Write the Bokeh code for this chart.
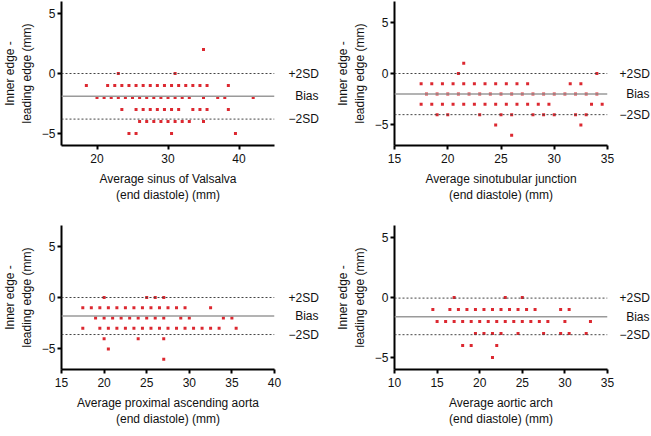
from bokeh.plotting import figure
from bokeh.models import Span, FixedTicker, Range1d, LinearAxis
from bokeh.layouts import column, row
from bokeh.embed import file_html
from bokeh.resources import INLINE

FONT = "Liberation Sans"
FS = "12px"
DOT = "#dc2830"

# ---------------- data ----------------
sinus_avg = [35,
             23, 31,
             18.5, 21.5, 22.5, 23.5, 24.5, 25.5, 26.5, 27.5, 28.5, 29.5, 30.5, 31.5, 32.5, 33.5, 34.5, 35.5, 38.5,
             20, 21, 22, 23, 24, 25, 26, 27, 28, 29, 30, 31, 32, 33, 35, 37, 38, 42,
             23.5, 25.5, 26.5, 27.5, 28.5, 29.5, 30.5, 31.5, 33.5, 34.5, 35.5, 38.5,
             26, 27, 28, 29, 30, 31, 32, 33, 35,
             24.5, 25.5, 30.5, 39.5]
sinus_diff = [2,
              0, 0,
              -1, -1, -1, -1, -1, -1, -1, -1, -1, -1, -1, -1, -1, -1, -1, -1, -1,
              -2, -2, -2, -2, -2, -2, -2, -2, -2, -2, -2, -2, -2, -2, -2, -2, -2, -2,
              -3, -3, -3, -3, -3, -3, -3, -3, -3, -3, -3, -3,
              -4, -4, -4, -4, -4, -4, -4, -4, -4,
              -5, -5, -5, -5]
sinus_stats = [-1.9, 0.0, -3.8]  # bias, +2SD, -2SD

stj_avg = [21.5,
           21, 34,
           17.5, 18.5, 19.5, 20.5, 21.5, 22.5, 23.5, 24.5, 25.5, 26.5, 27.5, 31.5, 32.5,
           18, 19, 20, 21, 22, 23, 24, 25, 26, 27, 28, 29, 30, 31, 32, 33, 34,
           17.5, 18.5, 19.5, 20.5, 21.5, 22.5, 23.5, 24.5, 25.5, 26.5, 27.5, 28.5, 29.5, 33.5, 34.5,
           19, 20, 23, 25, 26, 28, 29, 30, 32, 33,
           24.5, 32.5,
           26]
stj_diff = [1,
            0, 0,
            -1, -1, -1, -1, -1, -1, -1, -1, -1, -1, -1, -1, -1,
            -2, -2, -2, -2, -2, -2, -2, -2, -2, -2, -2, -2, -2, -2, -2, -2, -2,
            -3, -3, -3, -3, -3, -3, -3, -3, -3, -3, -3, -3, -3, -3, -3,
            -4, -4, -4, -4, -4, -4, -4, -4, -4, -4,
            -5, -5,
            -6]
stj_stats = [-2.0, 0.0, -4.0]

asc_avg = [20, 25, 26, 27,
           17.5, 18.5, 19.5, 20.5, 21.5, 22.5, 23.5, 24.5, 25.5, 26.5, 27.5, 28.5, 29.5, 32.5,
           19, 20, 21, 22, 23, 24, 25, 26, 27, 29, 30, 34, 35,
           17.5, 19.5, 20.5, 21.5, 22.5, 23.5, 24.5, 25.5, 26.5, 27.5, 28.5, 29.5, 30.5, 31.5, 32.5, 33.5, 35.5,
           20, 24, 27,
           20.5,
           27]
asc_diff = [0, 0, 0, 0,
            -1, -1, -1, -1, -1, -1, -1, -1, -1, -1, -1, -1, -1, -1,
            -2, -2, -2, -2, -2, -2, -2, -2, -2, -2, -2, -2, -2,
            -3, -3, -3, -3, -3, -3, -3, -3, -3, -3, -3, -3, -3, -3, -3, -3, -3,
            -4, -4, -4,
            -5,
            -6]
asc_stats = [-1.8, 0.0, -3.6]

arch_avg = [17, 23, 25,
            14.5, 16.5, 17.5, 18.5, 19.5, 20.5, 21.5, 22.5, 23.5, 24.5, 25.5, 26.5, 29.5, 30.5,
            15, 16, 17, 18, 19, 20, 21, 22, 23, 24, 25, 26, 27, 28, 30, 33,
            19.5, 20.5, 21.5, 22.5, 24.5, 27.5, 29.5, 30.5, 32.5,
            18, 19, 22,
            21.5]
arch_diff = [0, 0, 0,
             -1, -1, -1, -1, -1, -1, -1, -1, -1, -1, -1, -1, -1, -1,
             -2, -2, -2, -2, -2, -2, -2, -2, -2, -2, -2, -2, -2, -2, -2, -2,
             -3, -3, -3, -3, -3, -3, -3, -3, -3,
             -4, -4, -4,
             -5]
arch_stats = [-1.6, -0.05, -3.1]

# "Bias" is padded with two no-break spaces so that the three labels end flush right
line_labels = ["\u00a0\u00a0Bias", "+2SD", "\u22122SD"]
y_ticks = [-5, 0, 5]
y_tick_labels = {-5: "\u22125", 0: "0", 5: "5"}


def style_text(ax):
    ax.major_label_text_font = FONT
    ax.major_label_text_font_size = FS
    ax.major_label_text_color = "#111111"
    ax.axis_label_text_font = FONT
    ax.axis_label_text_font_size = FS
    ax.axis_label_text_font_style = "normal"
    ax.axis_label_text_color = "#111111"


def panel(xs, ys, stats, xr, yr, xticks, xlabel, fw, fh, left, right, top, bottom, lab_gap):
    p = figure(frame_width=fw, frame_height=fh, x_range=Range1d(*xr), y_range=Range1d(*yr),
               output_backend="svg", toolbar_location=None,
               min_border_left=left, min_border_right=right,
               min_border_top=top, min_border_bottom=bottom)
    p.outline_line_color = None
    p.grid.visible = False
    p.background_fill_color = "white"
    p.border_fill_color = "white"

    # reference lines
    p.add_layout(Span(location=stats[0], dimension="width", line_color="#9a9a9a", line_width=1.5))
    for v in stats[1:]:
        p.add_layout(Span(location=v, dimension="width", line_color="#444444",
                          line_width=1, line_dash="2 2"))

    p.scatter(xs, ys, marker="square", size=3, color=DOT, line_color=None)

    for ax in (p.xaxis[0], p.yaxis[0]):
        ax.axis_line_width = 2
        ax.axis_line_color = "black"
        ax.major_tick_line_width = 2
        ax.major_tick_line_color = "black"
        ax.major_tick_out = 4
        ax.major_tick_in = 0
        ax.minor_tick_line_color = None
        style_text(ax)

    p.xaxis[0].ticker = FixedTicker(ticks=xticks)
    p.xaxis[0].major_label_standoff = 4
    p.xaxis[0].axis_label = xlabel
    p.xaxis[0].axis_label_standoff = 6

    p.yaxis[0].ticker = FixedTicker(ticks=y_ticks)
    p.yaxis[0].major_label_overrides = y_tick_labels
    p.yaxis[0].major_label_standoff = 2
    p.yaxis[0].axis_label = "Inner edge -\nleading edge (mm)"
    p.yaxis[0].axis_label_standoff = 5

    # right-hand labels of the bias / limit lines
    lab = LinearAxis(ticker=FixedTicker(ticks=stats),
                     major_label_overrides={v: t for v, t in zip(stats, line_labels)})
    lab.axis_line_color = None
    lab.major_tick_line_color = None
    lab.minor_tick_line_color = None
    lab.major_label_standoff = lab_gap
    style_text(lab)
    p.add_layout(lab, "right")
    return p


p1 = panel(sinus_avg, sinus_diff, sinus_stats, (15, 45), (-6, 6), [20, 30, 40],
           "Average sinus of Valsalva\n(end diastole) (mm)", 213, 144, 56, 59, 1, 55, 8)
p2 = panel(stj_avg, stj_diff, stj_stats, (15, 35), (-7, 7), [15, 20, 25, 30, 35],
           "Average sinotubular junction\n(end diastole) (mm)", 213, 144, 56, 37, 1, 55, 6)
p3 = panel(asc_avg, asc_diff, asc_stats, (15, 40), (-7, 7), [15, 20, 25, 30, 35, 40],
           "Average proximal ascending aorta\n(end diastole) (mm)", 213, 144, 56, 59, 20, 55, 8)
p4 = panel(arch_avg, arch_diff, arch_stats, (10, 35), (-6, 6), [10, 15, 20, 25, 30, 35],
           "Average aortic arch\n(end diastole) (mm)", 213, 144, 56, 37, 20, 55, 6)

layout = column(row(p1, p2), row(p3, p4))
open("out.html", "w").write(file_html(layout, INLINE))
